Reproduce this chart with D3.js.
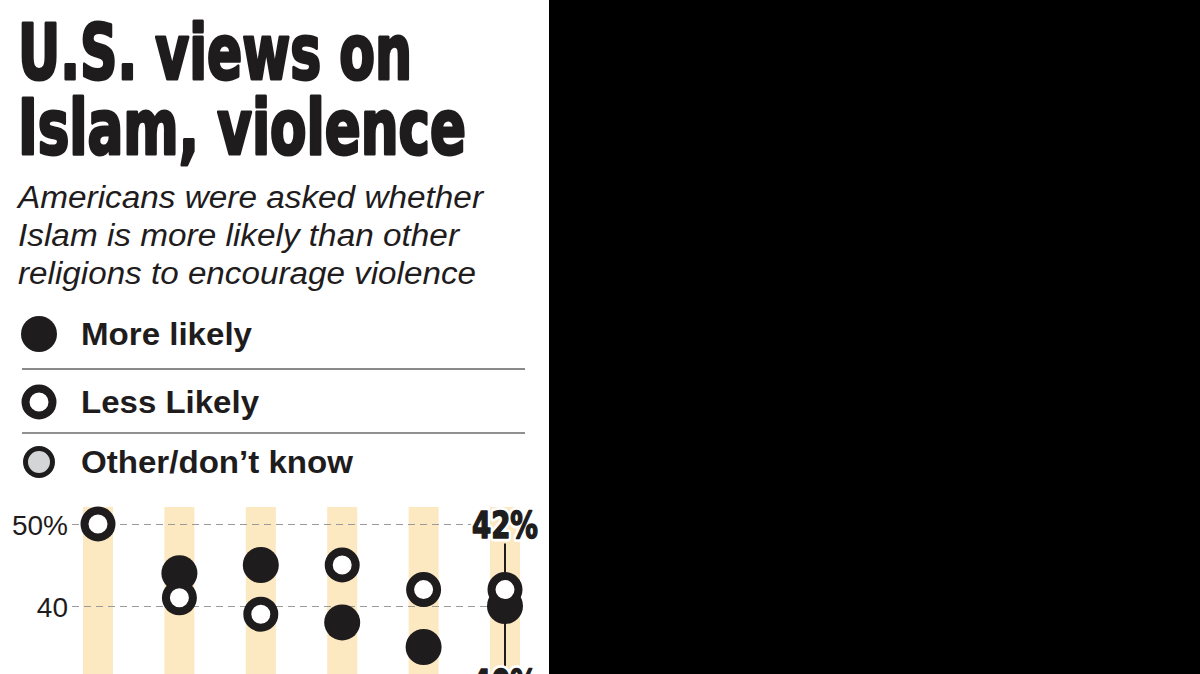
<!DOCTYPE html>
<html><head><meta charset="utf-8">
<script src="https://cdn.jsdelivr.net/npm/d3@7"></script>
<style>html,body{margin:0;padding:0;background:#000;overflow:hidden} svg{display:block}</style>
</head><body>
<svg id="chart" width="1200" height="674"></svg>
<script>
// ---- data ----
const years = ["2002", "2003", "2007", "2009", "2010", "2011"];
const moreLikely = [25, 44, 45, 38, 35, 40];
const lessLikely = [50, 41, 39, 45, 42, 42];
const yTicks = [30, 40, 50];
const yTickLabels = ["30", "40", "50%"];
const titleLines = ["U.S. views on", "Islam, violence"];
const subtitleLines = ["Americans were asked whether", "Islam is more likely than other", "religions to encourage violence"];
const legendLabels = ["More likely", "Less Likely", "Other/don\u2019t know"];

// ---- setup ----
const svg = d3.select("#chart");
const ink = "#1f1c1d";
const condensed = "'Liberation Sans Narrow','DejaVu Sans Condensed','Arial Narrow',sans-serif";
const sans = "'Liberation Sans',Arial,Helvetica,sans-serif";

svg.append("rect").attr("x", 0).attr("y", 0).attr("width", 1200).attr("height", 674).attr("fill", "#000");
svg.append("rect").attr("x", 0).attr("y", 0).attr("width", 549).attr("height", 674).attr("fill", "#fff");

// title (stroked to mimic a black condensed face)
const titleWidths = [394, 448];
svg.append("g").selectAll("text").data(titleLines).join("text")
  .attr("x", 18).attr("y", (d, i) => 79 + i * 75)
  .attr("font-family", condensed).attr("font-weight", 700).attr("font-size", 77)
  .attr("fill", ink).attr("stroke", ink).attr("stroke-width", 3).attr("stroke-linejoin", "round")
  .attr("textLength", (d, i) => titleWidths[i]).attr("lengthAdjust", "spacingAndGlyphs")
  .text(d => d);

// subtitle
const subWidths = [465, 441, 458];
svg.append("g").selectAll("text").data(subtitleLines).join("text")
  .attr("x", 18).attr("y", (d, i) => 208 + i * 38)
  .attr("font-family", sans).attr("font-style", "italic").attr("font-size", 31)
  .attr("fill", ink)
  .attr("textLength", (d, i) => subWidths[i]).attr("lengthAdjust", "spacingAndGlyphs")
  .text(d => d);

// legend
const legY = [334, 402, 462];
const legWidths = [171, 178, 272];
const leg = svg.append("g");
leg.append("circle").attr("cx", 39).attr("cy", legY[0]).attr("r", 18).attr("fill", ink);
leg.append("circle").attr("cx", 39).attr("cy", legY[1]).attr("r", 13.5).attr("fill", "#fff").attr("stroke", ink).attr("stroke-width", 8);
leg.append("circle").attr("cx", 39).attr("cy", legY[2]).attr("r", 13.5).attr("fill", "#d3d5d7").attr("stroke", ink).attr("stroke-width", 5);
leg.selectAll("text").data(legendLabels).join("text")
  .attr("x", 81).attr("y", (d, i) => legY[i] + 11)
  .attr("font-family", sans).attr("font-weight", 700).attr("font-size", 31)
  .attr("fill", ink)
  .attr("textLength", (d, i) => legWidths[i]).attr("lengthAdjust", "spacingAndGlyphs")
  .text(d => d);
leg.append("line").attr("x1", 22).attr("x2", 525).attr("y1", 369).attr("y2", 369).attr("stroke", "#8a8a8a").attr("stroke-width", 1.8);
leg.append("line").attr("x1", 22).attr("x2", 525).attr("y1", 433).attr("y2", 433).attr("stroke", "#222").attr("stroke-width", 1.2);

// ---- scales ----
const x = d3.scalePoint().domain(years).range([98, 505]);
const y = d3.scaleLinear().domain([40, 50]).range([606, 524]);

// bars (column highlights)
svg.append("g").selectAll("rect").data(years).join("rect")
  .attr("x", d => x(d) - 15).attr("y", 507).attr("width", 30).attr("height", 674 - 507)
  .attr("fill", "#fce8c1");

// y axis with gridlines
const axis = d3.axisLeft(y).tickValues(yTicks)
  .tickFormat((d, i) => yTickLabels[i])
  .tickSize(-(490 - 72)).tickPadding(4);
const ag = svg.append("g").attr("transform", "translate(72,0)").call(axis);
ag.select(".domain").remove();
ag.selectAll(".tick line").attr("stroke", "#9a9a9a").attr("stroke-width", 1).attr("stroke-dasharray", "7,5");
ag.selectAll(".tick text").attr("font-family", sans).attr("font-size", 28).attr("fill", ink).attr("dy", "0.36em");

// callout for latest year
const last = years.length - 1;
const xl = x(years[last]);
svg.append("line").attr("x1", xl).attr("x2", xl)
  .attr("y1", y(lessLikely[last]) - 46).attr("y2", y(moreLikely[last]) + 60)
  .attr("stroke", ink).attr("stroke-width", 2);

// points
svg.append("g").selectAll("circle").data(years).join("circle")
  .attr("cx", d => x(d)).attr("cy", (d, i) => y(moreLikely[i])).attr("r", 18).attr("fill", ink);
svg.append("g").selectAll("circle").data(years).join("circle")
  .attr("cx", d => x(d)).attr("cy", (d, i) => y(lessLikely[i])).attr("r", 13.5)
  .attr("fill", "#fff").attr("stroke", ink).attr("stroke-width", 8);

// callout labels
const calloutTexts = [
  { t: lessLikely[last] + "%", yy: y(lessLikely[last]) - 52 },
  { t: moreLikely[last] + "%", yy: y(moreLikely[last]) + 90 }
];
const lab = svg.append("g").attr("font-family", condensed).attr("font-weight", 700)
  .attr("font-size", 37).attr("text-anchor", "middle");
// white halo underneath
lab.selectAll("text.halo").data(calloutTexts).join("text").attr("class", "halo")
  .attr("x", xl).attr("y", d => d.yy)
  .attr("fill", "#fff").attr("stroke", "#fff").attr("stroke-width", 7).attr("stroke-linejoin", "round")
  .attr("textLength", 66).attr("lengthAdjust", "spacingAndGlyphs")
  .text(d => d.t);
lab.selectAll("text.main").data(calloutTexts).join("text").attr("class", "main")
  .attr("x", xl).attr("y", d => d.yy)
  .attr("fill", ink).attr("stroke", ink).attr("stroke-width", 1.5).attr("stroke-linejoin", "round")
  .attr("textLength", 66).attr("lengthAdjust", "spacingAndGlyphs")
  .text(d => d.t);
</script>
</body></html>
